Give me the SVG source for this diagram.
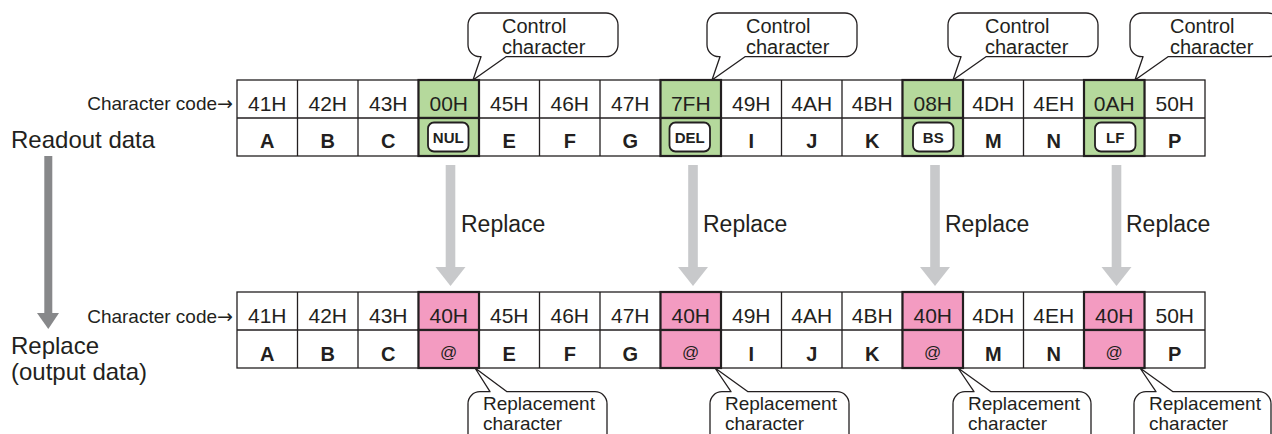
<svg xmlns="http://www.w3.org/2000/svg" width="1272" height="434" viewBox="0 0 1272 434">
<style>
text{font-family:"Liberation Sans",Arial,sans-serif;fill:#231f20}
.grid{fill:none;stroke:#231f20;stroke-width:1.3}
.cell{fill:#fff;stroke:#231f20;stroke-width:1.3}
.green{fill:#b5d99c;stroke:#231f20;stroke-width:2.2}
.pink{fill:#f39bc1;stroke:#231f20;stroke-width:2.2}
.code{font-size:21px;text-anchor:middle}
.chr{font-size:20px;font-weight:bold;text-anchor:middle}
.at{font-size:17px;text-anchor:middle}
.ctl{fill:#fff;stroke:#231f20;stroke-width:1.8}
.ctlt{font-size:15px;font-weight:bold;text-anchor:middle}
.lbl{font-size:19px;text-anchor:end}
.arr{font-family:"DejaVu Sans",sans-serif;font-size:19px}
.big{font-size:24px}
.rep{font-size:23px}
.call{fill:#fff;stroke:#231f20;stroke-width:1.3;stroke-linejoin:round}
.ct{font-size:20px}
.bt{font-size:19px}
.garrow{fill:#c8c9cb}
.darrow{fill:#87888a}
</style>

<g id="labels">
  <text class="big" x="11" y="148">Readout data</text>
  <text class="big" x="11" y="354">Replace</text>
  <text class="big" x="11" y="380">(output data)</text>
  <text class="lbl" x="233" y="110">Character code<tspan class="arr">→</tspan></text>
  <text class="lbl" x="233" y="323">Character code<tspan class="arr">→</tspan></text>
</g>

<g id="connectors">
  <rect class="darrow" x="44.3" y="156" width="8" height="158"/>
  <polygon class="darrow" points="37,313 59,313 48.3,329"/>
  <g id="arrow1"><rect class="garrow" x="445.7" y="165" width="9.6" height="103"/><polygon class="garrow" points="435.5,267 465.5,267 450.5,286"/></g>
  <g id="arrow2"><rect class="garrow" x="688.2" y="165" width="9.6" height="103"/><polygon class="garrow" points="678,267 708,267 693,286"/></g>
  <g id="arrow3"><rect class="garrow" x="930.2" y="165" width="9.6" height="103"/><polygon class="garrow" points="920,267 950,267 935,286"/></g>
  <g id="arrow4"><rect class="garrow" x="1111.7" y="165" width="9.6" height="103"/><polygon class="garrow" points="1101.5,267 1131.5,267 1116.5,286"/></g>
  <text class="rep" x="461" y="231.7">Replace</text>
  <text class="rep" x="703" y="231.7">Replace</text>
  <text class="rep" x="945" y="231.7">Replace</text>
  <text class="rep" x="1126" y="231.7">Replace</text>
</g>

<g id="table-readout">
  <rect class="cell" x="237" y="80" width="968" height="76"/>
  <path class="grid" d="M237 118H1205M297.5 80V156M358 80V156M418.5 80V156M479 80V156M539.5 80V156M600 80V156M660.5 80V156M721 80V156M781.5 80V156M842 80V156M902.5 80V156M963 80V156M1023.5 80V156M1084 80V156M1144.5 80V156"/>
  <rect class="green" x="418.5" y="80" width="60.5" height="38"/><rect class="green" x="418.5" y="118" width="60.5" height="38"/>
  <rect class="green" x="660.5" y="80" width="60.5" height="38"/><rect class="green" x="660.5" y="118" width="60.5" height="38"/>
  <rect class="green" x="902.5" y="80" width="60.5" height="38"/><rect class="green" x="902.5" y="118" width="60.5" height="38"/>
  <rect class="green" x="1084" y="80" width="60.5" height="38"/><rect class="green" x="1084" y="118" width="60.5" height="38"/>
  <g class="codes">
    <text class="code" x="267.25" y="110.5">41H</text>
    <text class="code" x="327.75" y="110.5">42H</text>
    <text class="code" x="388.25" y="110.5">43H</text>
    <text class="code" x="448.75" y="110.5">00H</text>
    <text class="code" x="509.25" y="110.5">45H</text>
    <text class="code" x="569.75" y="110.5">46H</text>
    <text class="code" x="630.25" y="110.5">47H</text>
    <text class="code" x="690.75" y="110.5">7FH</text>
    <text class="code" x="751.25" y="110.5">49H</text>
    <text class="code" x="811.75" y="110.5">4AH</text>
    <text class="code" x="872.25" y="110.5">4BH</text>
    <text class="code" x="932.75" y="110.5">08H</text>
    <text class="code" x="993.25" y="110.5">4DH</text>
    <text class="code" x="1053.75" y="110.5">4EH</text>
    <text class="code" x="1114.25" y="110.5">0AH</text>
    <text class="code" x="1174.75" y="110.5">50H</text>
  </g>
  <g class="chars">
    <text class="chr" x="267.25" y="148">A</text>
    <text class="chr" x="327.75" y="148">B</text>
    <text class="chr" x="388.25" y="148">C</text>
    <rect class="ctl" x="428" y="122.5" width="40.5" height="29" rx="6"/>
    <text class="ctlt" x="448.25" y="142.5">NUL</text>
    <text class="chr" x="509.25" y="148">E</text>
    <text class="chr" x="569.75" y="148">F</text>
    <text class="chr" x="630.25" y="148">G</text>
    <rect class="ctl" x="669.5" y="122.5" width="40.5" height="29" rx="6"/>
    <text class="ctlt" x="689.75" y="142.5">DEL</text>
    <text class="chr" x="751.25" y="148">I</text>
    <text class="chr" x="811.75" y="148">J</text>
    <text class="chr" x="872.25" y="148">K</text>
    <rect class="ctl" x="913" y="122.5" width="40.5" height="29" rx="6"/>
    <text class="ctlt" x="933.25" y="142.5">BS</text>
    <text class="chr" x="993.25" y="148">M</text>
    <text class="chr" x="1053.75" y="148">N</text>
    <rect class="ctl" x="1095" y="122.5" width="40.5" height="29" rx="6"/>
    <text class="ctlt" x="1115.25" y="142.5">LF</text>
    <text class="chr" x="1174.75" y="148">P</text>
  </g>
</g>

<g id="table-output">
  <rect class="cell" x="237" y="292" width="968" height="76"/>
  <path class="grid" d="M237 330H1205M297.5 292V368M358 292V368M418.5 292V368M479 292V368M539.5 292V368M600 292V368M660.5 292V368M721 292V368M781.5 292V368M842 292V368M902.5 292V368M963 292V368M1023.5 292V368M1084 292V368M1144.5 292V368"/>
  <rect class="pink" x="418.5" y="292" width="60.5" height="38"/><rect class="pink" x="418.5" y="330" width="60.5" height="38"/>
  <rect class="pink" x="660.5" y="292" width="60.5" height="38"/><rect class="pink" x="660.5" y="330" width="60.5" height="38"/>
  <rect class="pink" x="902.5" y="292" width="60.5" height="38"/><rect class="pink" x="902.5" y="330" width="60.5" height="38"/>
  <rect class="pink" x="1084" y="292" width="60.5" height="38"/><rect class="pink" x="1084" y="330" width="60.5" height="38"/>
  <g class="codes">
    <text class="code" x="267.25" y="323">41H</text>
    <text class="code" x="327.75" y="323">42H</text>
    <text class="code" x="388.25" y="323">43H</text>
    <text class="code" x="448.75" y="323">40H</text>
    <text class="code" x="509.25" y="323">45H</text>
    <text class="code" x="569.75" y="323">46H</text>
    <text class="code" x="630.25" y="323">47H</text>
    <text class="code" x="690.75" y="323">40H</text>
    <text class="code" x="751.25" y="323">49H</text>
    <text class="code" x="811.75" y="323">4AH</text>
    <text class="code" x="872.25" y="323">4BH</text>
    <text class="code" x="932.75" y="323">40H</text>
    <text class="code" x="993.25" y="323">4DH</text>
    <text class="code" x="1053.75" y="323">4EH</text>
    <text class="code" x="1114.25" y="323">40H</text>
    <text class="code" x="1174.75" y="323">50H</text>
  </g>
  <g class="chars">
    <text class="chr" x="267.25" y="361">A</text>
    <text class="chr" x="327.75" y="361">B</text>
    <text class="chr" x="388.25" y="361">C</text>
    <text class="at" x="448.75" y="358">@</text>
    <text class="chr" x="509.25" y="361">E</text>
    <text class="chr" x="569.75" y="361">F</text>
    <text class="chr" x="630.25" y="361">G</text>
    <text class="at" x="690.75" y="358">@</text>
    <text class="chr" x="751.25" y="361">I</text>
    <text class="chr" x="811.75" y="361">J</text>
    <text class="chr" x="872.25" y="361">K</text>
    <text class="at" x="932.75" y="358">@</text>
    <text class="chr" x="993.25" y="361">M</text>
    <text class="chr" x="1053.75" y="361">N</text>
    <text class="at" x="1114.25" y="358">@</text>
    <text class="chr" x="1174.75" y="361">P</text>
  </g>
</g>

<g id="callout-ctl1">
  <path class="call" d="M480 13H606A12 12 0 0 1 618 25V44.7A12 12 0 0 1 606 56.7H506L473 80L481 56.7H480A12 12 0 0 1 468 44.7V25A12 12 0 0 1 480 13Z"/>
  <text class="ct" x="502" y="33">Control</text><text class="ct" x="502" y="53.5">character</text>
</g>
<g id="callout-ctl2">
  <path class="call" d="M719 13H845A12 12 0 0 1 857 25V44.7A12 12 0 0 1 845 56.7H745L712 80L720 56.7H719A12 12 0 0 1 707 44.7V25A12 12 0 0 1 719 13Z"/>
  <text class="ct" x="746" y="33">Control</text><text class="ct" x="746" y="53.5">character</text>
</g>
<g id="callout-ctl3">
  <path class="call" d="M960 13H1086A12 12 0 0 1 1098 25V44.7A12 12 0 0 1 1086 56.7H986L953 80L961 56.7H960A12 12 0 0 1 948 44.7V25A12 12 0 0 1 960 13Z"/>
  <text class="ct" x="985" y="33">Control</text><text class="ct" x="985" y="53.5">character</text>
</g>
<g id="callout-ctl4">
  <path class="call" d="M1142 13H1268A12 12 0 0 1 1280 25V44.7A12 12 0 0 1 1268 56.7H1168L1135 80L1143 56.7H1142A12 12 0 0 1 1130 44.7V25A12 12 0 0 1 1142 13Z"/>
  <text class="ct" x="1170" y="33">Control</text><text class="ct" x="1170" y="53.5">character</text>
</g>

<g id="callout-rep1">
  <path class="call" d="M480 391.7H490L475 368L507 391.7H595A12 12 0 0 1 607 403.7V450H468V403.7A12 12 0 0 1 480 391.7Z"/>
  <text class="bt" x="483" y="410">Replacement</text><text class="bt" x="483" y="430">character</text>
</g>
<g id="callout-rep2">
  <path class="call" d="M722 391.7H731L715 368L748 391.7H837A12 12 0 0 1 849 403.7V450H710V403.7A12 12 0 0 1 722 391.7Z"/>
  <text class="bt" x="725" y="410">Replacement</text><text class="bt" x="725" y="430">character</text>
</g>
<g id="callout-rep3">
  <path class="call" d="M965 391.7H974L958 368L991 391.7H1079A12 12 0 0 1 1091 403.7V450H953V403.7A12 12 0 0 1 965 391.7Z"/>
  <text class="bt" x="968" y="410">Replacement</text><text class="bt" x="968" y="430">character</text>
</g>
<g id="callout-rep4">
  <path class="call" d="M1146 391.7H1156L1140 368L1173 391.7H1259A12 12 0 0 1 1271 403.7V450H1134V403.7A12 12 0 0 1 1146 391.7Z"/>
  <text class="bt" x="1149" y="410">Replacement</text><text class="bt" x="1149" y="430">character</text>
</g>
</svg>
